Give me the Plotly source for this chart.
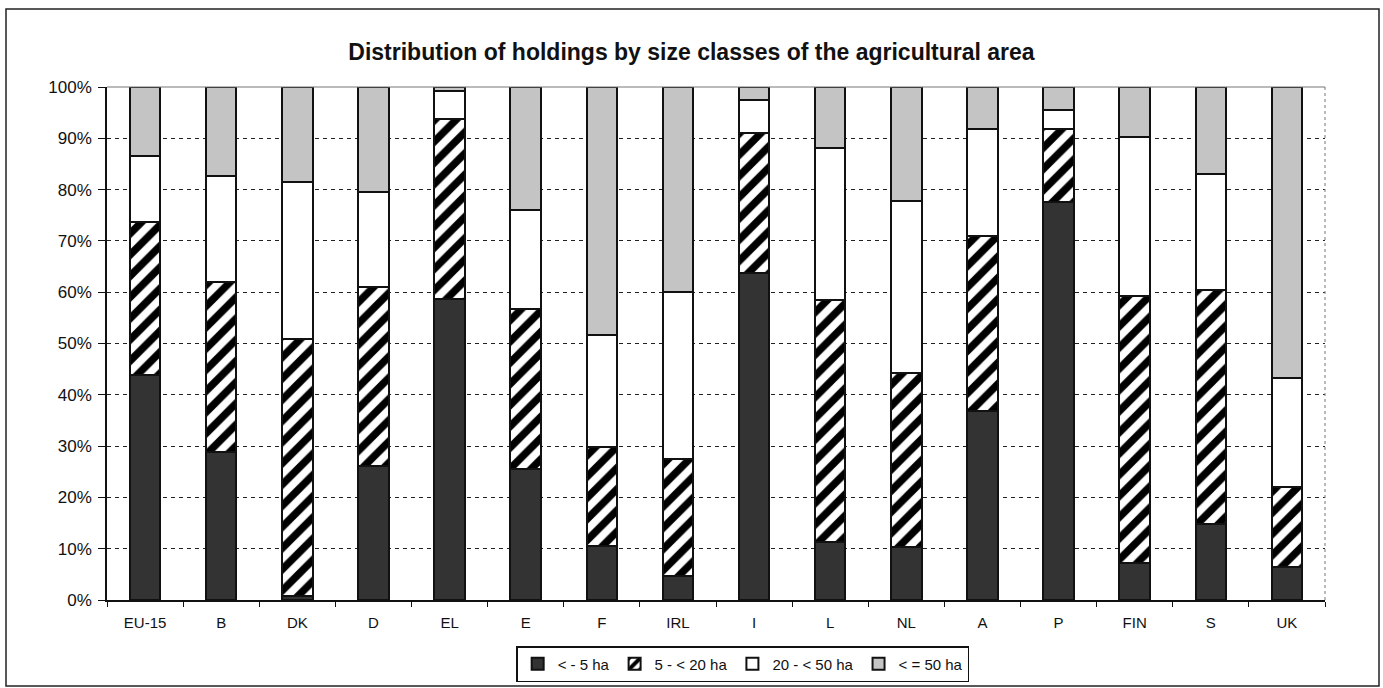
import plotly.graph_objects as go

# Member states (EU-15 total first)
countries = ["EU-15", "B", "DK", "D", "EL", "E", "F", "IRL", "I", "L", "NL", "A", "P", "FIN", "S", "UK"]

# Share of holdings per size class (fractions of all holdings)
lt_5_ha = [0.439, 0.289, 0.007, 0.261, 0.586, 0.256, 0.106, 0.047, 0.637, 0.114, 0.103, 0.368, 0.775, 0.073, 0.148, 0.064]
ha_5_20 = [0.297, 0.330, 0.501, 0.349, 0.352, 0.311, 0.192, 0.227, 0.274, 0.471, 0.339, 0.342, 0.143, 0.520, 0.456, 0.157]
ha_20_50 = [0.130, 0.208, 0.306, 0.185, 0.055, 0.193, 0.218, 0.326, 0.063, 0.296, 0.335, 0.209, 0.038, 0.309, 0.227, 0.211]
ge_50_ha = [0.134, 0.173, 0.186, 0.205, 0.007, 0.240, 0.484, 0.400, 0.026, 0.119, 0.223, 0.081, 0.044, 0.098, 0.169, 0.568]

series_names = ["< - 5 ha", "5 - < 20 ha", "20 - < 50 ha", "< = 50 ha"]

W, H = 1383, 688
ML, MR, MT, MB = 107, 58, 87, 88
PW, PH = W - ML - MR, H - MT - MB

outline = dict(color="#111111", width=2)

fig = go.Figure()
fig.add_trace(go.Bar(
    x=countries, y=lt_5_ha, name=series_names[0],
    marker=dict(color="#333333", line=outline),
))
fig.add_trace(go.Bar(
    x=countries, y=ha_5_20, name=series_names[1],
    marker=dict(color="white", line=outline,
                pattern=dict(shape="/", fgcolor="#000000", fgopacity=1, bgcolor="white",
                             size=15, solidity=0.5, fillmode="overlay")),
))
fig.add_trace(go.Bar(
    x=countries, y=ha_20_50, name=series_names[2],
    marker=dict(color="white", line=outline),
))
fig.add_trace(go.Bar(
    x=countries, y=ge_50_ha, name=series_names[3],
    marker=dict(color="#c4c4c4", line=outline),
))

def px_x(p):
    return (p - ML) / PW

def px_y(p):
    return (H - MB - p) / PH

shapes = [
    # outer frame around the whole chart
    dict(type="rect", xref="paper", yref="paper",
         x0=px_x(6), x1=px_x(1379), y0=px_y(686), y1=px_y(9),
         line=dict(color="#222222", width=1.5), fillcolor="rgba(0,0,0,0)", layer="below"),
    # top and right edges of the plot area
    dict(type="line", xref="paper", yref="paper", x0=0, x1=1, y0=1, y1=1,
         line=dict(color="#777777", width=1)),
    dict(type="line", xref="paper", yref="paper", x0=1, x1=1, y0=0, y1=1,
         line=dict(color="#777777", width=1, dash="dot")),
]

fig.update_layout(
    width=W, height=H,
    barmode="stack", bargap=0.6,
    margin=dict(l=ML, r=MR, t=MT, b=MB),
    paper_bgcolor="white", plot_bgcolor="white",
    font=dict(family="Liberation Sans, Arial, sans-serif", color="#111111"),
    title=dict(text="<b>Distribution of holdings by size classes of the agricultural area</b>",
               x=0.5, xref="container", xanchor="center",
               y=1 - 52 / H, yref="container", yanchor="middle",
               font=dict(size=23, color="#111111")),
    xaxis=dict(
        showline=True, linecolor="#111111", linewidth=1.5,
        ticks="outside", tickson="boundaries", ticklen=5, tickcolor="#111111",
        tickfont=dict(size=15), showgrid=False, ticklabelstandoff=8,
    ),
    yaxis=dict(
        range=[0, 1], dtick=0.1, tickformat=".0%",
        showline=True, linecolor="#111111", linewidth=1.5,
        ticks="outside", ticklen=7, tickcolor="#111111",
        tickfont=dict(size=17), ticklabelstandoff=3,
        showgrid=True, gridcolor="#222222", gridwidth=1, griddash="4px,4px",
        zeroline=False,
    ),
    legend=dict(
        orientation="h", xref="container", yref="container",
        x=0.537, xanchor="center", y=1 - 664 / H, yanchor="middle",
        bordercolor="#111111", borderwidth=1.5, bgcolor="white",
        font=dict(size=15), itemwidth=30, tracegroupgap=0,
        traceorder="normal",
    ),
    shapes=shapes,
)

fig.write_html("out.html")
